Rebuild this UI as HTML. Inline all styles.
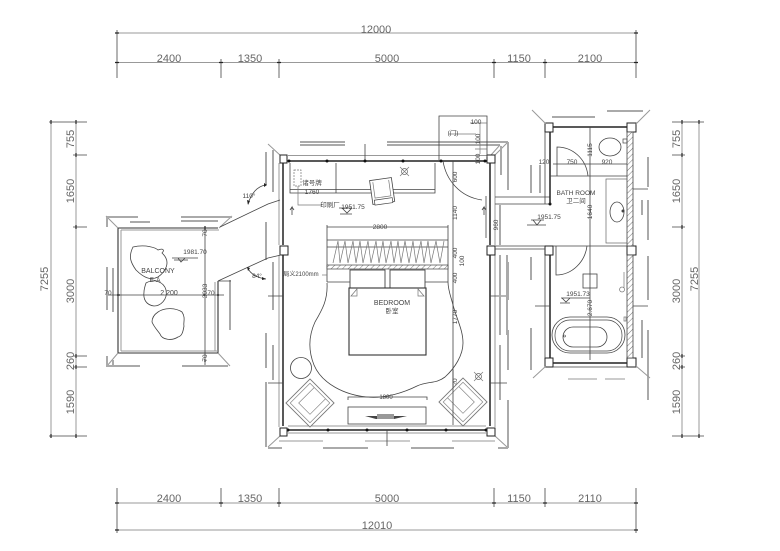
<!DOCTYPE html>
<html><head><meta charset="utf-8"><style>
html,body{margin:0;padding:0;background:#fff;width:780px;height:551px;overflow:hidden}
svg{display:block}
text{font-family:"Liberation Sans","Noto Sans CJK SC",sans-serif;fill:#666}
.d{font-size:11px;text-anchor:middle}
.s{font-size:6.5px;text-anchor:middle;fill:#444}
.g{stroke:#999;fill:none;stroke-width:1}
.G{stroke:#aaa;fill:none;stroke-width:2}
.k{stroke:#444;fill:none;stroke-width:.8}
.K{stroke:#222;fill:none;stroke-width:1.5}
.t{stroke:#777;fill:none;stroke-width:.7}
</style></head><body>
<svg width="780" height="551" viewBox="0 0 780 551" xmlns="http://www.w3.org/2000/svg">
<defs><pattern id="h" width="4" height="4" patternUnits="userSpaceOnUse" patternTransform="rotate(45)"><rect width="4" height="4" fill="#fff"/><line x1="0" y1="0" x2="0" y2="4" stroke="#777" stroke-width="1"/></pattern></defs>

<!-- top dims -->
<path class="g" d="M117 33H636M117 62.5H636"/>
<path class="k" d="M117 30V78M221 59V78M279 59V78M494 59V78M545 59V78M636 30V78"/>
<path d="M115 33h4M115 62.5h4M219 62.5h4M277 62.5h4M492 62.5h4M543 62.5h4M634 62.5h4M634 33h4" stroke="#222" stroke-width="1.2"/>
<text class="d" x="376" y="33">12000</text>
<text class="d" x="169" y="62">2400</text><text class="d" x="250" y="62">1350</text><text class="d" x="387" y="62">5000</text><text class="d" x="519" y="62">1150</text><text class="d" x="590" y="62">2100</text>

<!-- bottom dims -->
<path class="g" d="M117 503H636M117 530H636"/>
<path class="k" d="M117 488V533M221 488V507M279 488V507M494 488V507M545 488V507M636 488V533"/>
<path d="M115 503h4M219 503h4M277 503h4M492 503h4M543 503h4M634 503h4M115 530h4M634 530h4" stroke="#222" stroke-width="1.2"/>
<text class="d" x="169" y="502">2400</text><text class="d" x="250" y="502">1350</text><text class="d" x="387" y="502">5000</text><text class="d" x="519" y="502">1150</text><text class="d" x="590" y="502">2110</text>
<text class="d" x="377" y="529">12010</text>

<!-- left dims -->
<path class="g" d="M51 122V436M76 122V436"/>
<path class="k" d="M49 122H87M49 436H87M73 155H87M73 227H87M73 356H87M73 367H87"/>
<path d="M51 120v4M51 434v4M76 120v4M76 153v4M76 225v4M76 354v4M76 365v4M76 434v4" stroke="#222" stroke-width="1.2"/>
<text class="d" transform="translate(48,279) rotate(-90)">7255</text>
<text class="d" transform="translate(74,139) rotate(-90)">755</text>
<text class="d" transform="translate(74,191) rotate(-90)">1650</text>
<text class="d" transform="translate(74,291) rotate(-90)">3000</text>
<text class="d" transform="translate(74,361) rotate(-90)">260</text>
<text class="d" transform="translate(74,402) rotate(-90)">1590</text>

<!-- right dims -->
<path class="g" d="M682 122V436M699 122V436"/>
<path class="k" d="M672 122H704M672 436H704M672 155H685M672 227H685M680 356H685M680 367H685"/>
<path d="M682 120v4M682 153v4M682 225v4M682 354v4M682 365v4M682 434v4M699 120v4M699 434v4" stroke="#222" stroke-width="1.2"/>
<text class="d" transform="translate(680,139) rotate(-90)">755</text>
<text class="d" transform="translate(680,191) rotate(-90)">1650</text>
<text class="d" transform="translate(680,291) rotate(-90)">3000</text>
<text class="d" transform="translate(680,361) rotate(-90)">260</text>
<text class="d" transform="translate(680,402) rotate(-90)">1590</text>
<text class="d" transform="translate(698,279) rotate(-90)">7255</text>

<!-- bedroom frames -->
<path class="G" d="M300 142H345M387 142H508M300 145H345M387 145H500"/>
<path class="g" d="M268 144L281 156M508 142L495 155M500 145L491 155"/>
<path class="G" d="M266 152V185M273 150V192M508 142V190M501 146V175"/>
<path class="G" d="M266 222V260M273 262V310M266 333V368M273 345V380M500 262V300M508 262V300M508 330V370M500 345V400"/>
<path class="G" d="M266 382V410M508 400V448M268 448H282M323 448H368M411 448H454M498 448H508M266 410V447"/>
<path class="g" d="M268 447L280 436M507 447L495 436M279 441H323M365 441H410M452 441H495"/>
<path class="g" d="M279 163V245M279 255V427M495 163V245M495 255V427M288 155.5H487M288 426H486M288 433H486"/>

<!-- bedroom walls -->
<path class="K" d="M283 163V245M283 255V426M490 163V245M490 255V426M288 161H487M288 430H486"/>
<path class="k" d="M365 144V161M387 430V446M268 296H283M490 296H507M268 383H283M490 383H507"/>
<g fill="#111"><circle cx="289" cy="161" r="1.5"/><circle cx="327" cy="161" r="1.5"/><circle cx="365" cy="161" r="1.5"/><circle cx="403" cy="161" r="1.5"/><circle cx="441" cy="161" r="1.5"/><circle cx="485" cy="161" r="1.5"/><circle cx="288" cy="430" r="1.5"/><circle cx="328" cy="430" r="1.5"/><circle cx="367" cy="430" r="1.5"/><circle cx="407" cy="430" r="1.5"/><circle cx="446" cy="430" r="1.5"/><circle cx="486" cy="430" r="1.5"/></g>
<g fill="#fff" stroke="#222" stroke-width="1">
<rect x="280" y="155" width="7" height="8"/><rect x="487" y="155" width="8" height="8"/>
<rect x="280" y="246" width="8" height="9"/><rect x="487" y="246" width="8" height="9"/>
<rect x="280" y="428" width="7" height="8"/><rect x="487" y="428" width="8" height="8"/>
<rect x="545" y="123" width="8" height="9"/><rect x="627" y="123" width="9" height="9"/>
<rect x="545" y="246" width="8" height="9"/><rect x="627" y="246" width="9" height="9"/>
<rect x="545" y="358" width="8" height="9"/><rect x="627" y="358" width="9" height="9"/>
</g>

<!-- closet -->
<path class="k" d="M290 163V193H435V163M336 163V193M290 189.5H435"/>
<rect x="294" y="170" width="7" height="16" fill="none" stroke="#777" stroke-width=".7" stroke-dasharray="2 1"/>
<path class="t" d="M298 186V205H322"/>
<text class="s" x="312" y="185">诸号牌</text><text class="s" x="312" y="194">1760</text>
<text class="s" x="384" y="194">2800</text><text class="s" x="330" y="207">印刷厂</text>
<text class="s" x="353" y="209">1951.75</text>
<path class="k" d="M339 208H352M342 208L347 213L352 208M340 214H352"/>
<g transform="translate(382,190) rotate(-8)"><rect x="-11" y="-11" width="22" height="24" fill="#fff" stroke="#444" stroke-width=".8"/><rect x="-9" y="9" width="18" height="5" fill="#fff" stroke="#444" stroke-width=".7"/><path class="t" d="M-8 -9V7H8V-9"/></g>
<path class="t" d="M400 167l9 9m0-9l-9 9"/><circle cx="404.500" cy="171.500" r="3" fill="none" stroke="#666" stroke-width=".7"/>

<!-- top right box + door -->
<path class="k" d="M439 160V116H487V157"/>
<path class="t" d="M449 134H476M470 123H487M480 123V154M475 149H487"/>
<text class="s" x="453" y="135">(门)</text><text class="s" x="476" y="124">100</text>
<text class="s" transform="translate(480,139) rotate(-90)">100</text>
<text class="s" transform="translate(480,159) rotate(-90)">100</text>
<path class="k" d="M443 161C446 180 460 197 482 200"/>
<path class="k" d="M486 196V238M453 161V400"/>
<text class="s" transform="translate(457,177) rotate(-90)">600</text>
<text class="s" transform="translate(457,213) rotate(-90)">1140</text>
<text class="s" transform="translate(457,253) rotate(-90)">400</text>
<text class="s" transform="translate(464,261) rotate(-90)">100</text>
<text class="s" transform="translate(457,278) rotate(-90)">400</text>
<text class="s" transform="translate(457,317) rotate(-90)">1770</text>
<text class="s" transform="translate(457,382) rotate(-90)">20</text>
<text class="s" transform="translate(457,405) rotate(-90)">400</text>
<path d="M292 215v-8l-2 3m2-3l2 3M484 215v-8l-2 3m2-3l2 3" class="k"/>
<text class="s" transform="translate(498,225) rotate(-90)">960</text>

<!-- headboard -->
<path class="k" d="M327 227H448M327 225V282M448 225V282M327 240H448M327 247H448"/>
<path class="t" d="M333 263L338 241L340 263L345 241L348 263L353 241L356 263L360 241L363 263L368 241L371 263L376 241L379 263L383 241L386 263L391 241L394 263L398 241L401 263L405 241L409 263L413 241L416 263L421 241L424 263L428 241L431 263L436 241L440 263L444 241"/>
<rect x="327" y="265" width="121" height="4" fill="url(#h)" stroke="#444" stroke-width=".7"/>
<path class="k" d="M327 282H350M425 282H448"/>
<rect x="350" y="270" width="35" height="20" fill="#fff" stroke="#444" stroke-width=".9"/>
<rect x="390" y="270" width="35" height="20" fill="#fff" stroke="#444" stroke-width=".9"/>
<text class="s" x="380" y="229">2800</text>
<text class="s" x="301" y="276" style="font-size:6px">局义2100mm</text><path class="t" d="M322 275H327"/>

<!-- bed -->
<rect x="349" y="288" width="77" height="67" fill="#fff" stroke="#333" stroke-width="1.1"/>
<path class="t" d="M351 296L357 289V296ZM424 296L418 289V296Z"/>
<text class="s" x="392" y="305" style="font-size:7px">BEDROOM</text><text class="s" x="392" y="313">卧室</text>

<!-- rug -->
<path class="k" d="M327 283C328 300 322 310 315 322C309 335 308 350 314 365C322 384 345 395 367 397C385 399 405 392 417 386C428 381 436 384 445 377C455 368 463 355 463 343C463 330 457 320 453 305C451 297 448 290 448 282"/>
<circle cx="301" cy="368" r="10.500" fill="none" stroke="#444" stroke-width=".8"/>

<!-- armchairs -->
<g transform="translate(310,403) rotate(45)"><rect x="-17" y="-17" width="34" height="34" fill="#fff" stroke="#777" stroke-width=".9"/><path d="M-14 -14H14V14H-14ZM-8 -14V8H8V-14" fill="none" stroke="#888" stroke-width=".7"/></g>
<g transform="translate(463,402) rotate(-45)"><rect x="-17" y="-17" width="34" height="34" fill="#fff" stroke="#777" stroke-width=".9"/><path d="M-14 -14H14V14H-14ZM-8 -14V8H8V-14" fill="none" stroke="#888" stroke-width=".7"/></g>
<path class="k" d="M453 370V425"/>
<path class="t" d="M474 372l9 9m0-9l-9 9"/><circle cx="478.500" cy="376.500" r="3" fill="none" stroke="#666" stroke-width=".7"/>

<!-- console -->
<path class="k" d="M348 400V397H427V400"/><text class="s" x="386" y="399" style="font-size:6px">1800</text>
<rect x="348" y="407" width="78" height="17" fill="none" stroke="#444" stroke-width=".8"/>
<path d="M365 416H407L394 419H376Z" fill="#444"/><rect x="377" y="414" width="17" height="5" fill="#999"/>

<!-- corridor -->
<path class="k" d="M495 197H550M495 204H550M495 246H545M495 249H545"/>
<path class="G" d="M500 205V245M500 255V335M507 255V335M531 165V193M540 165V193M531 257V280M531 328V370"/>
<circle cx="550" cy="204" r="1.500" fill="#111"/>
<text class="s" x="549" y="219">1951.75</text>
<path class="k" d="M531 220H544M533 220L537 225L541 220M527 225H546"/>

<!-- bathroom -->
<path class="K" d="M553 127H627M550 132V204M550 255V358M553 363H627"/>
<path class="k" d="M553 246H627M553 164H627M550 176H627M590 127V360M553 367H627M545 132V204M545 255V358"/>
<rect x="627" y="132" width="6" height="114" fill="url(#h)" stroke="#444" stroke-width=".8"/>
<rect x="627" y="255" width="6" height="103" fill="url(#h)" stroke="#444" stroke-width=".8"/>
<path class="G" d="M648 157V187M642 200V215M648 200V240M648 256V300M648 330V400M642 320V358M552 117H595M607 111H643"/>
<path class="k" d="M633 189H648M633 306H648M535 306H550"/>
<path class="g" d="M532 110L546 124M650 110L636 124M533 378L546 366M650 378L636 366M568 379H597M605 379H625"/>
<ellipse cx="610" cy="147" rx="11" ry="9" fill="#fff" stroke="#444" stroke-width=".8"/><rect x="623" y="139" width="4" height="4" fill="none" stroke="#444" stroke-width=".7"/>
<path class="k" d="M557 176V147C572 147 586 158 588 176"/>
<text class="s" x="544" y="164">120</text><text class="s" x="572" y="164">750</text><text class="s" x="607" y="164">920</text>
<text class="s" transform="translate(592,150) rotate(-90)">1115</text>
<text class="s" transform="translate(592,212) rotate(-90)">1640</text>
<text class="s" x="576" y="195" style="font-size:6.500px">BATH ROOM</text><text class="s" x="576" y="203">卫二间</text>
<rect x="606" y="179" width="21" height="64" fill="none" stroke="#666" stroke-width=".7"/>
<ellipse cx="617" cy="212" rx="7" ry="10" fill="#fff" stroke="#444" stroke-width=".8"/><circle cx="623" cy="211" r="1.500" fill="#444"/>
<path class="k" d="M556 246V275C572 275 585 262 587 246"/>
<rect x="583" y="274" width="14" height="14" fill="none" stroke="#444" stroke-width=".8"/>
<text class="s" x="578" y="296">1951.73</text>
<path class="k" d="M561 298H590M562 298L566 302L570 298M560 303H570"/>
<text class="s" transform="translate(592,308) rotate(-90)">2.670</text>
<path class="t" d="M624 272V288M622 287a2.500 2.500 0 1 0 .1 0M624 317h2v4h-2z"/>
<rect x="552" y="317" width="73" height="36" rx="18" fill="none" stroke="#444" stroke-width=".8"/>
<rect x="555" y="320" width="67" height="31" rx="15" fill="none" stroke="#444" stroke-width=".7"/>
<rect x="563" y="327" width="44" height="20" rx="10" fill="none" stroke="#444" stroke-width=".8"/>
<circle cx="564.500" cy="336" r="1" fill="none" stroke="#444" stroke-width=".6"/>

<!-- balcony -->
<path d="M118 228H218M118 353H218M118 228V353M218 281V353" stroke="#333" stroke-width="1.100" fill="none"/>
<path class="g" d="M121 230H219M121 351H218M121 230V351M215 282V351"/>
<path class="g" d="M106 216L118 228M232 216L219 228M107 366L118 353M230 366L218 353"/>
<path class="G" d="M107 217H138M107 217V227M181 217H232M130 222H150M181 221H218M107 267V310M113 268V312M107 356V366H140M182 366H228M113 366V360"/>
<path class="G" d="M230 280V330"/>
<path class="k" d="M220 227L268 204L280 200M218 281L268 258L281 255M218 281H231"/>
<path class="k" d="M108 295H224M205 228V365"/>
<path d="M117 295h3M205 226v4M205 295h-2M205 362v-2M217 295h2" stroke="#222" stroke-width="1.200"/>
<path class="k" d="M248 204C251 194 257 186 266 185M248 268C250 274 258 278 266 279"/>
<path d="M264 183l3 2-3 2M247 200l1 5 2-4M250 268l-3-1 1 4M262 277l4 2-4 1" fill="#222"/>
<text class="s" x="249" y="198">110°</text><text class="s" x="257" y="278">84°</text>
<path class="k" d="M133 247C146 244 156 248 158 250C163 248 165 250 162 253C172 262 165 272 158 277C150 281 143 277 136 270C131 263 128 257 133 247Z"/>
<path class="k" d="M146 283C154 278 164 282 166 290C168 300 160 306 154 306C146 305 143 299 144 292C144 289 145 286 146 283Z"/>
<path class="k" d="M158 312C165 307 176 308 182 312C186 318 183 323 184 326C183 332 182 336 178 337C172 341 162 340 160 334C158 331 154 327 152 322C152 317 155 314 158 312Z"/>
<text class="s" x="158" y="273" style="font-size:7px">BALCONY</text><text class="s" x="155" y="282">E-A</text>
<text class="s" x="169" y="295" style="font-size:7px">2 200</text>
<text class="s" x="108" y="295">70</text><text class="s" x="211" y="295">70</text>
<text class="s" x="195" y="254">1981.70</text>
<path class="k" d="M172 258H198M178 258L181 262L185 258M174 260H188"/>
<text class="s" transform="translate(207,291) rotate(-90)">3033</text>
<text class="s" transform="translate(207,233) rotate(-90)">70</text>
<text class="s" transform="translate(207,358) rotate(-90)">70</text>
</svg>
</body></html>
